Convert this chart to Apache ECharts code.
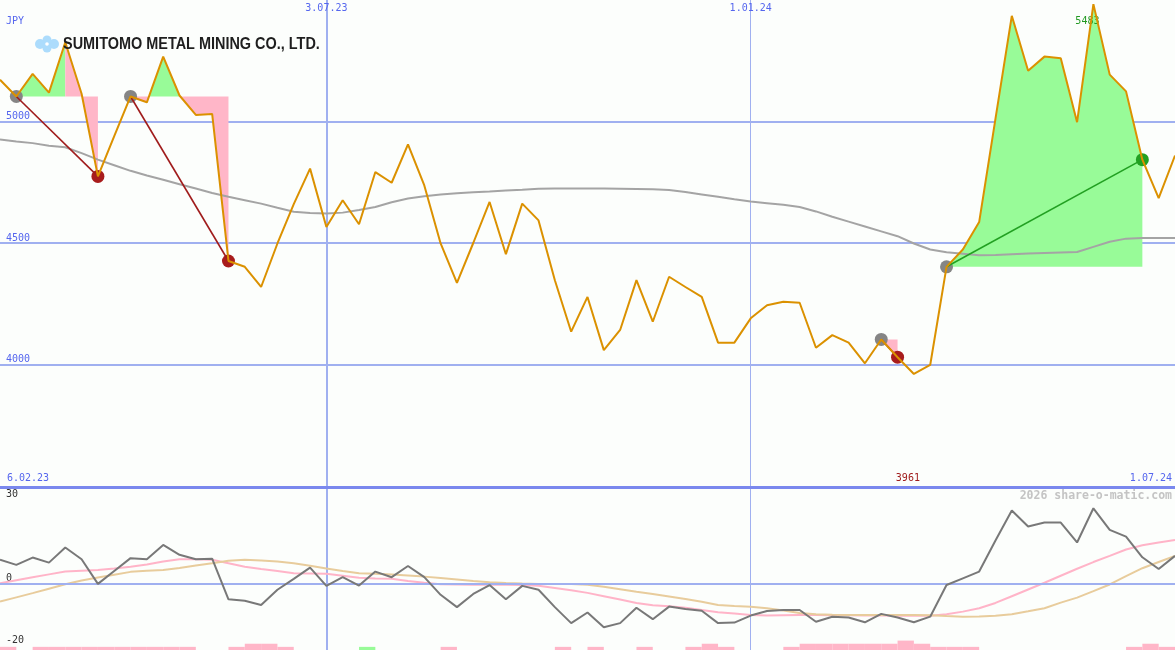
<!DOCTYPE html>
<html><head><meta charset="utf-8">
<script src="https://cdn.jsdelivr.net/npm/echarts@6/dist/echarts.min.js"></script>
<style>html,body{margin:0;padding:0;background:#fcfefc;}#c{width:1175px;height:650px;}</style>
</head><body><div id="c"></div>
<script>
// ---------- data ----------
const title = 'SUMITOMO METAL MINING CO., LTD.';
const currency = 'JPY';
const watermark = '2026 share-o-matic.com';
const rangeLabels = ['6.02.23', '1.07.24'];
const topDateLabels = ['3.07.23', '1.01.24'];
const lowerTickLabels = [30, 0];
const lowerBottomTick = [-20];

const dates = ['13.02.23','20.02.23','27.02.23','6.03.23','13.03.23','20.03.23','27.03.23','3.04.23','10.04.23','17.04.23','24.04.23','1.05.23','8.05.23','15.05.23','22.05.23','29.05.23','5.06.23','12.06.23','19.06.23','26.06.23','3.07.23','10.07.23','17.07.23','24.07.23','31.07.23','7.08.23','14.08.23','21.08.23','28.08.23','4.09.23','11.09.23','18.09.23','25.09.23','2.10.23','9.10.23','16.10.23','23.10.23','30.10.23','6.11.23','13.11.23','20.11.23','27.11.23','4.12.23','11.12.23','18.12.23','25.12.23','1.01.24','8.01.24','15.01.24','22.01.24','29.01.24','5.02.24','12.02.24','19.02.24','26.02.24','4.03.24','11.03.24','18.03.24','25.03.24','1.04.24','8.04.24','15.04.24','22.04.24','29.04.24','6.05.24','13.05.24','20.05.24','27.05.24','3.06.24','10.06.24','17.06.24','24.06.24','1.07.24'];

const price = [5172,5103,5196,5119,5326,5114,4774,4940,5103,5079,5267,5107,5027,5031,4426,4402,4319,4498,4660,4806,4566,4676,4577,4792,4748,4906,4737,4498,4336,4500,4669,4454,4662,4593,4347,4135,4278,4059,4142,4347,4176,4361,4319,4278,4090,4090,4190,4244,4258,4254,4069,4121,4090,4005,4103,4030,3961,3998,4402,4473,4586,5012,5435,5209,5267,5260,4997,5483,5193,5124,4843,4685,4860];

const priceMA = [4926,4918,4911,4900,4894,4870,4843,4820,4797,4778,4760,4742,4724,4706,4690,4676,4662,4645,4629,4623,4621,4625,4636,4648,4668,4683,4692,4700,4705,4709,4712,4716,4719,4723,4724,4724,4724,4724,4723,4722,4721,4718,4710,4700,4690,4680,4671,4664,4657,4648,4630,4608,4588,4568,4548,4528,4498,4473,4462,4456,4450,4451,4454,4457,4459,4461,4463,4484,4505,4518,4521,4521,4521];

const momentum = [8.6,6.8,9.4,7.6,13,8.8,0,4.6,9.2,8.8,13.9,10.4,8.8,9.0,-5.5,-6,-7.5,-2.1,1.8,5.8,-0.7,2.4,-0.6,4.4,2.4,6.4,2.4,-3.9,-8.3,-3.6,-0.4,-5.5,-0.7,-2.1,-8.3,-14,-10.2,-15.5,-14,-8.5,-12.6,-8.1,-9,-9.6,-14,-13.8,-11.3,-9.7,-9.3,-9.3,-13.5,-11.7,-12,-13.7,-10.7,-12,-13.7,-11.7,-0.4,2,4.4,15.5,26.2,20.5,21.9,21.9,14.8,27,19.3,16.9,9.5,5.3,10];

const momentumFast = [0.2,1.3,2.4,3.4,4.4,4.7,5.0,5.5,6.1,6.9,8.0,8.8,8.8,8.6,7.4,6.1,5.3,4.6,3.8,3.7,3.6,2.9,2.2,1.9,1.8,1.0,0.4,-0.1,-0.2,-0.3,-0.3,-0.3,-0.4,-0.7,-1.5,-2.3,-3.2,-4.4,-5.6,-6.8,-7.6,-8.0,-8.5,-9.3,-10.1,-10.6,-11.1,-11.3,-11.2,-11.1,-11.1,-11.2,-11.2,-11.3,-11.3,-11.4,-11.4,-11.4,-10.8,-9.9,-8.7,-6.8,-4.4,-2.0,0.4,2.9,5.4,7.8,10.0,12.3,13.8,14.8,15.7];

const momentumSlow = [-6.3,-4.8,-3.3,-1.7,-0.1,1.2,2.3,3.3,4.3,4.7,5.0,5.7,6.6,7.4,8.3,8.6,8.4,8.0,7.4,6.5,5.5,4.6,3.8,3.6,3.4,3.0,2.6,2.1,1.6,1.0,0.6,0.3,0.1,0,0,0,-0.3,-1.0,-1.9,-2.8,-3.6,-4.5,-5.4,-6.4,-7.5,-7.9,-8.2,-8.7,-9.5,-10.4,-10.8,-11.0,-11.1,-11.1,-11.1,-11.1,-11.1,-11.2,-11.5,-11.7,-11.6,-11.4,-10.8,-9.8,-8.7,-6.7,-4.9,-2.6,-0.2,2.8,5.6,7.8,10.0];

// weekly signal bars (interval i spans week i to week i+1)
const pinkBars = [1,0,1,1,1,1,1,1,1,1,1,1,0,0,1,2,2,1,0,0,0,0,0,0,0,0,0,1,0,0,0,0,0,0,1,0,1,0,0,1,0,0,1,2,1,0,0,0,1,2,2,2,2,2,2,3,2,1,1,1,0,0,0,0,0,0,0,0,0,1,2,1];
const greenBars = [0,0,0,0,0,0,0,0,0,0,0,0,0,0,0,0,0,0,0,0,0,0,1,0,0,0,0,0,0,0,0,0,0,0,0,0,0,0,0,0,0,0,0,0,0,0,0,0,0,0,0,0,0,0,0,0,0,0,0,0,0,0,0,0,0,0,0,0,0,0,0,0];

// trades: entry week, exit week, week from which the area turns pink
const tradeEntry = [1, 8, 54, 58];
const tradeExit = [6, 14, 55, 70];
const tradeFadeFrom = [4, 11, 55, 70];

// ---------- styles ----------
const GREEN_FILL = '#98fb98', PINK_FILL = '#ffb6c8';
const GRID_BLUE = '#a0b0f0', LABEL_BLUE = '#5566ee';
const MONO = '"DejaVu Sans Mono", monospace';

const chart = echarts.init(document.getElementById('c'), null, {renderer: 'canvas'});

function renderFill(params, api) {
  const k = params.dataIndex;
  const a = tradeEntry[k], b = tradeExit[k], fade = tradeFadeFrom[k];
  const L = api.coord([a, price[a]])[1];
  const pieces = [];
  const push = (color, p0, p1) => {
    const last = pieces[pieces.length - 1];
    if (last && last.color === color) last.pts.push(p1);
    else pieces.push({color: color, pts: [p0, p1]});
  };
  for (let i = a; i < b; i++) {
    const p = api.coord([i, price[i]]), q = api.coord([i + 1, price[i + 1]]);
    const force = i >= fade;
    const colorOf = y => (force || y > L) ? PINK_FILL : GREEN_FILL;
    if (!force && (p[1] - L) * (q[1] - L) < 0) {
      const t = (L - p[1]) / (q[1] - p[1]);
      const c = [p[0] + t * (q[0] - p[0]), L];
      push(colorOf(p[1]), p, c);
      push(colorOf(q[1]), c, q);
    } else {
      push(colorOf((p[1] + q[1]) / 2), p, q);
    }
  }
  return {
    type: 'group',
    children: pieces.map(pc => ({
      type: 'polygon',
      shape: {points: pc.pts.concat([[pc.pts[pc.pts.length - 1][0], L], [pc.pts[0][0], L]])},
      style: {fill: pc.color}
    }))
  };
}

function renderTradeLine(params, api) {
  const k = params.dataIndex;
  const a = tradeEntry[k], b = tradeExit[k];
  const p = api.coord([a, price[a]]), q = api.coord([b, price[b]]);
  const win = price[b] > price[a];
  return {type: 'line', shape: {x1: p[0], y1: p[1], x2: q[0], y2: q[1]},
    style: {stroke: win ? '#22a022' : '#a01c1c', lineWidth: 1.6}};
}

function renderBar(params, api) {
  const i = params.dataIndex;
  const lv = pinkBars[i] || greenBars[i];
  if (!lv) return;
  const p0 = api.coord([i, 0]), p1 = api.coord([i + 1, lv]);
  return {type: 'rect', shape: {x: p0[0], y: p1[1], width: p1[0] - p0[0], height: p0[1] - p1[1]},
    style: {fill: pinkBars[i] ? PINK_FILL : GREEN_FILL}};
}

const minVal = Math.min(...price), maxVal = Math.max(...price);
const minIdx = price.indexOf(minVal), maxIdx = price.indexOf(maxVal);
const P_MIN = 3500, P_MAX = 5500, M_MIN = -23.6, M_MAX = 34.6;

const baseX = (grid, showLabel, splitDate, width, extra) => Object.assign({
  type: 'category', gridIndex: grid, data: dates, boundaryGap: false, position: 'top',
  axisLine: {show: false, onZero: false}, axisTick: {show: false},
  axisLabel: showLabel ? {inside: true, margin: 3, color: LABEL_BLUE, fontSize: 10, fontFamily: MONO,
    interval: (i, v) => topDateLabels.includes(v)} : {show: false},
  splitLine: {show: true, interval: (i, v) => v === splitDate, lineStyle: {color: GRID_BLUE, width: width}}
}, extra || {});

const lowerY = (labels, vAlign) => ({
  type: 'value', gridIndex: 1, min: M_MIN, max: M_MAX, position: 'left',
  axisLine: {show: false}, axisTick: {show: false}, splitLine: {show: false},
  axisLabel: {inside: true, margin: 6, verticalAlign: vAlign, color: '#333', fontSize: 10, fontFamily: MONO,
    customValues: labels, formatter: v => String(v)}
});

chart.setOption({
  animation: false,
  backgroundColor: '#fcfefc',
  grid: [
    {left: 0, right: 0, top: 0, height: 486},
    {left: 0, right: 0, top: 487, height: 163}
  ],
  xAxis: [
    baseX(0, true, topDateLabels[0], 2),
    baseX(0, false, topDateLabels[1], 1),
    baseX(1, false, topDateLabels[0], 2, {axisLine: {show: true, onZero: false, lineStyle: {color: '#7a88ee', width: 3}}}),
    baseX(1, false, topDateLabels[1], 1)
  ],
  yAxis: [
    {type: 'value', gridIndex: 0, min: P_MIN, max: P_MAX, interval: 500, position: 'left',
      axisLine: {show: false}, axisTick: {show: false},
      axisLabel: {inside: true, margin: 6, verticalAlign: 'bottom', color: LABEL_BLUE, fontSize: 10, fontFamily: MONO,
        showMinLabel: false, showMaxLabel: false, formatter: v => String(v)},
      splitLine: {show: true, showMinLine: false, showMaxLine: false, lineStyle: {color: GRID_BLUE, width: 2}}},
    lowerY(lowerTickLabels, 'bottom'),
    lowerY(lowerBottomTick, 'middle'),
    {type: 'value', gridIndex: 1, min: 0, max: 52, show: false, position: 'left'}
  ],
  series: [
    {type: 'custom', name: 'tradeArea', xAxisIndex: 0, yAxisIndex: 0, z: 2, silent: true,
      data: tradeEntry.map(e => [e, price[e]]), renderItem: renderFill},
    {type: 'line', name: 'MA', xAxisIndex: 0, yAxisIndex: 0, z: 3, data: priceMA, symbol: 'none',
      lineStyle: {color: '#a4a4a4', width: 2}},
    {type: 'scatter', name: 'entry', xAxisIndex: 0, yAxisIndex: 0, z: 4, symbolSize: 13,
      data: tradeEntry.map(i => [i, price[i]]), itemStyle: {color: '#858585', opacity: 1}},
    {type: 'scatter', name: 'exit', xAxisIndex: 0, yAxisIndex: 0, z: 4, symbolSize: 13,
      data: tradeExit.map((i, k) => ({value: [i, price[i]],
        itemStyle: {color: price[i] > price[tradeEntry[k]] ? '#22a022' : '#a81c1c'}})),
      itemStyle: {opacity: 1}},
    {type: 'custom', name: 'tradeLine', xAxisIndex: 0, yAxisIndex: 0, z: 5, silent: true,
      data: tradeEntry.map(e => [e, price[e]]), renderItem: renderTradeLine},
    {type: 'line', name: 'price', xAxisIndex: 0, yAxisIndex: 0, z: 6, data: price, symbol: 'none',
      lineStyle: {color: '#db9100', width: 2},
      markPoint: {symbol: 'circle', symbolSize: 1, itemStyle: {color: 'rgba(0,0,0,0)'},
        label: {show: true, position: 'inside', fontSize: 10, fontFamily: MONO, formatter: p => String(p.value)},
        data: [
          {coord: [maxIdx, P_MAX], value: maxVal, label: {color: '#229922', offset: [-6, 21]}},
          {coord: [minIdx, P_MIN], value: minVal, label: {color: '#a01c1c', offset: [-6, -8]}}
        ]}},
    {type: 'line', name: 'zero', xAxisIndex: 2, yAxisIndex: 1, z: 1, data: [], silent: true,
      markLine: {silent: true, symbol: 'none', label: {show: false},
        lineStyle: {color: GRID_BLUE, width: 2, type: 'solid'}, data: [{yAxis: 0}]}},
    {type: 'custom', name: 'signals', xAxisIndex: 2, yAxisIndex: 3, z: 2, silent: true,
      data: pinkBars.map((v, i) => [i, v || greenBars[i]]), renderItem: renderBar},
    {type: 'line', name: 'fast', xAxisIndex: 2, yAxisIndex: 1, z: 3, data: momentumFast, symbol: 'none',
      lineStyle: {color: '#ffb4c8', width: 2}},
    {type: 'line', name: 'slow', xAxisIndex: 2, yAxisIndex: 1, z: 4, data: momentumSlow, symbol: 'none',
      lineStyle: {color: '#e8cc9c', width: 2}},
    {type: 'line', name: 'momentum', xAxisIndex: 2, yAxisIndex: 1, z: 5, data: momentum, symbol: 'none',
      lineStyle: {color: '#787878', width: 2}}
  ],
  graphic: [
    {type: 'text', x: 6, y: 21, style: {text: currency, fill: LABEL_BLUE, font: '10px ' + MONO, verticalAlign: 'middle'}},
    {type: 'text', x: 7, y: 478, style: {text: rangeLabels[0], fill: LABEL_BLUE, font: '10px ' + MONO, verticalAlign: 'middle'}},
    {type: 'text', x: 1172, y: 478, style: {text: rangeLabels[1], fill: LABEL_BLUE, font: '10px ' + MONO, align: 'right', verticalAlign: 'middle'}},
    {type: 'text', x: 1172, y: 496, style: {text: watermark, fill: '#c4c4c4', font: 'bold 11.5px ' + MONO, align: 'right', verticalAlign: 'middle'}},
    {type: 'group', x: 47, y: 44, children: [
      {type: 'circle', shape: {cx: -7, cy: 0, r: 5}, style: {fill: '#acdcfc'}},
      {type: 'circle', shape: {cx: 7, cy: 0, r: 5}, style: {fill: '#acdcfc'}},
      {type: 'circle', shape: {cx: 0, cy: -4, r: 4.5}, style: {fill: '#acdcfc'}},
      {type: 'circle', shape: {cx: 0, cy: 4, r: 4.5}, style: {fill: '#acdcfc'}},
      {type: 'circle', shape: {cx: 0, cy: 0, r: 1.8}, style: {fill: '#ffffff'}}
    ]},
    {type: 'text', x: 63, y: 44.5, scaleX: 0.85, z: 10,
      style: {text: title, fill: '#1e1e1e', font: 'bold 17px "Liberation Sans", Arial, sans-serif', verticalAlign: 'middle'}}
  ]
});
</script></body></html>
